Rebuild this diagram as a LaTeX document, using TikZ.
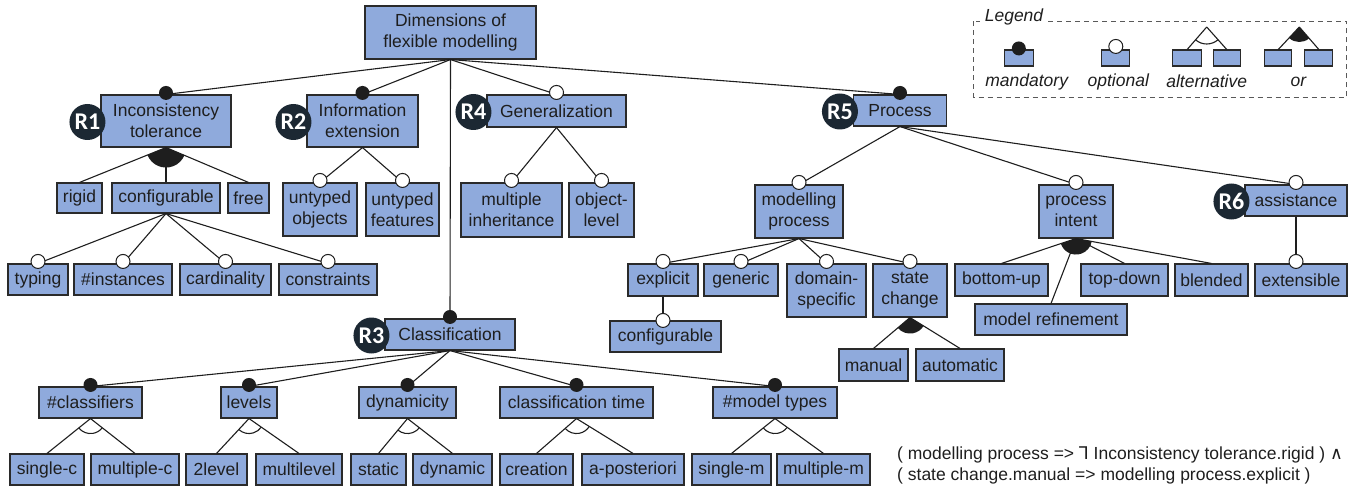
\documentclass[tikz,border=0pt]{standalone}
\usepackage{fontspec}
\setmainfont{Liberation Sans}
\newfontfamily\rfont{Carlito}
\newfontfamily\symfont{DejaVu Sans}
\usetikzlibrary{calc}

\definecolor{boxblue}{HTML}{8FAADC}
\definecolor{boxline}{HTML}{2A2A2A}
\definecolor{rnavy}{HTML}{1C2833}
\definecolor{ink}{HTML}{1E1E1E}

\newcommand\fsz{\fontsize{17.5}{21}\selectfont}

\tikzset{
  feat/.style={draw=boxline, fill=boxblue, line width=1.1pt, inner sep=0pt,
    align=center, font=\fsz, text=ink},
  link/.style={line width=1.1pt, draw=ink},
  mand/.style={circle, fill=ink, inner sep=0pt, minimum size=14pt},
  opt/.style={circle, draw=ink, fill=white, line width=1pt, inner sep=0pt, minimum size=14pt},
  rtag/.style={circle, fill=rnavy, text=white, inner sep=0pt, minimum size=36pt,
    font=\rfont\bfseries\fontsize{24}{24}\selectfont},
  legtext/.style={font=\fsz\itshape, text=ink, inner sep=0pt},
  formula/.style={font=\fsz, text=ink, inner sep=0pt, anchor=west},
}

% filled "or" sector below a parent, spanning from the left child's line to the right child's
\newcommand\orsector[4]{%
  \fill[ink] let \p0=(#1), \p1=($(#2)-(#1)$), \p2=($(#3)-(#1)$),
    \n1={atan2(\y1,\x1)}, \n2={atan2(\y2,\x2)} in
    (\p0) -- ++(\n1:#4) arc[start angle=\n1, end angle=\n2, radius=#4] -- cycle;}
% open "alternative" arc between two child lines
\newcommand\altarc[4]{%
  \draw[link] let \p0=(#1), \p1=($(#2)-(#1)$), \p2=($(#3)-(#1)$),
    \n1={atan2(\y1,\x1)}, \n2={atan2(\y2,\x2)} in
    (\p0) ++(\n1:#4) arc[start angle=\n1, end angle=\n2, radius=#4];}

\begin{document}
\begin{tikzpicture}[x=1pt, y=-1pt]
\useasboundingbox (0,0) rectangle (1364,489);

% ---------- feature boxes ----------
\node[feat, minimum width=171, minimum height=53] (root) at (450.5,32.5) {Dimensions of\\flexible modelling};

\node[feat, minimum width=130, minimum height=52] (inc)  at (166,121)   {Inconsistency\\tolerance};
\node[feat, minimum width=111, minimum height=52] (info) at (362.5,121) {Information\\extension};
\node[feat, minimum width=139, minimum height=32] (gen)  at (556.5,111) {Generalization};
\node[feat, minimum width=93,  minimum height=31] (proc) at (900,110.5) {Process};

\node[feat, minimum width=45,  minimum height=30] (rigid) at (79.5,198)  {rigid};
\node[feat, minimum width=108, minimum height=30] (conf)  at (166,198)   {configurable};
\node[feat, minimum width=41,  minimum height=30] (free)  at (248.5,198) {free};

\node[feat, minimum width=74, minimum height=53] (uobj)  at (320,209.5)   {untyped\\objects};
\node[feat, minimum width=73, minimum height=53] (ufeat) at (402.5,209.5) {untyped\\features};

\node[feat, minimum width=60, minimum height=31] (typing) at (38,279.5)    {typing};
\node[feat, minimum width=98, minimum height=31] (inst)   at (123,279.5)   {\#instances};
\node[feat, minimum width=91, minimum height=31] (card)   at (225.5,279.5) {cardinality};
\node[feat, minimum width=98, minimum height=31] (cons)   at (328,279.5)   {constraints};

\node[feat, minimum width=101, minimum height=54] (minh) at (511.5,210) {multiple\\inheritance};
\node[feat, minimum width=65,  minimum height=54] (objl) at (601.5,210) {object-\\level};

\node[feat, minimum width=88,  minimum height=53] (mproc)  at (799,211.5)  {modelling\\process};
\node[feat, minimum width=74,  minimum height=53] (pint)   at (1076,211.5) {process\\intent};
\node[feat, minimum width=102, minimum height=31] (assist) at (1296,200.5) {assistance};

\node[feat, minimum width=70, minimum height=32] (expl)  at (663,280)     {explicit};
\node[feat, minimum width=74, minimum height=32] (gener) at (741,280)     {generic};
\node[feat, minimum width=79, minimum height=53] (dspec) at (826.5,290.5) {domain-\\specific};
\node[feat, minimum width=74, minimum height=53] (stch)  at (910,290.5)   {state\\change};

\node[feat, minimum width=93,  minimum height=32] (bup)   at (1001.5,280) {bottom-up};
\node[feat, minimum width=87,  minimum height=32] (tdown) at (1124.5,280) {top-down};
\node[feat, minimum width=73,  minimum height=32] (blend) at (1211.5,280) {blended};
\node[feat, minimum width=92,  minimum height=32] (ext)   at (1301,280)   {extensible};
\node[feat, minimum width=152, minimum height=31] (mref)  at (1051,319.5) {model refinement};

\node[feat, minimum width=111, minimum height=31] (conf2)  at (665.5,336.5) {configurable};
\node[feat, minimum width=69,  minimum height=32] (manual) at (873.5,365)   {manual};
\node[feat, minimum width=88,  minimum height=32] (auto)   at (960,365)     {automatic};

\node[feat, minimum width=130, minimum height=31] (cls)   at (450,334.5)   {Classification};
\node[feat, minimum width=103, minimum height=31] (ncls)  at (90.5,402.5)  {\#classifiers};
\node[feat, minimum width=56,  minimum height=31] (lev)   at (249,402.5)   {levels};
\node[feat, minimum width=97,  minimum height=31] (dyn)   at (407.5,402.5) {dynamicity};
\node[feat, minimum width=153, minimum height=31] (ctime) at (576.5,402.5) {classification time};
\node[feat, minimum width=124, minimum height=31] (nmt)   at (775,402.5)   {\#model types};

\node[feat, minimum width=74,  minimum height=31] (sc)    at (47,469.5)    {single-c};
\node[feat, minimum width=88,  minimum height=31] (mc)    at (135,469.5)   {multiple-c};
\node[feat, minimum width=61,  minimum height=31] (lvtwo) at (216.5,469.5) {2level};
\node[feat, minimum width=86,  minimum height=31] (ml)    at (299,469.5)   {multilevel};
\node[feat, minimum width=55,  minimum height=31] (stat)  at (378.5,469.5) {static};
\node[feat, minimum width=79,  minimum height=31] (dynm)  at (452.5,469.5) {dynamic};
\node[feat, minimum width=73,  minimum height=31] (crea)  at (536.5,469.5) {creation};
\node[feat, minimum width=102, minimum height=31] (apost) at (633,469.5)   {a-posteriori};
\node[feat, minimum width=79,  minimum height=31] (sm)    at (731.5,469.5) {single-m};
\node[feat, minimum width=93,  minimum height=31] (mm)    at (823.5,469.5) {multiple-m};

% ---------- connectors ----------
\foreach \c in {inc,info,gen,proc,cls}
  {\draw[link] (root.south) -- (\c.north);}
\foreach \c in {rigid,conf,free}
  {\draw[link] (inc.south) -- (\c.north);}
\foreach \c in {uobj,ufeat}
  {\draw[link] (info.south) -- (\c.north);}
\foreach \c in {typing,inst,card,cons}
  {\draw[link] (conf.south) -- (\c.north);}
\foreach \c in {minh,objl}
  {\draw[link] (gen.south) -- (\c.north);}
\foreach \c in {mproc,pint,assist}
  {\draw[link] (proc.south) -- (\c.north);}
\foreach \c in {expl,gener,dspec,stch}
  {\draw[link] (mproc.south) -- (\c.north);}
\foreach \c in {bup,mref,tdown,blend}
  {\draw[link] (pint.south) -- (\c.north);}
\foreach \c in {manual,auto}
  {\draw[link] (stch.south) -- (\c.north);}
\draw[link] (expl.south) -- (expl.south |- conf2.north);
\draw[link] (assist.south) -- (assist.south |- ext.north);
\foreach \c in {ncls,lev,dyn,ctime,nmt}
  {\draw[link] (cls.south) -- (\c.north);}
\foreach \pa/\ca/\cb in {ncls/sc/mc, lev/lvtwo/ml, dyn/stat/dynm, ctime/crea/apost, nmt/sm/mm} {
  \draw[link] (\pa.south) -- (\ca.north);
  \draw[link] (\pa.south) -- (\cb.north);
}

% ---------- group markers ----------
\orsector{inc.south}{rigid.north}{free.north}{20pt}
\orsector{stch.south}{manual.north}{auto.north}{16pt}
\orsector{pint.south}{bup.north}{blend.north}{16pt}
\foreach \pa/\ca/\cb in {ncls/sc/mc, lev/lvtwo/ml, dyn/stat/dynm, ctime/crea/apost, nmt/sm/mm}
  {\altarc{\pa.south}{\ca.north}{\cb.north}{15pt}}

% ---------- mandatory / optional markers ----------
\foreach \c in {inc,info,proc,cls,ncls,lev,dyn,ctime,nmt}
  {\node[mand] (m-\c) at ($(\c.north)+(0,-1.5)$) {};}
\foreach \c in {gen,uobj,ufeat,typing,inst,card,cons,minh,objl,mproc,pint,assist,expl,gener,dspec,stch}
  {\node[opt] (o-\c) at ($(\c.north)+(0,-2)$) {};}
\node[opt] (o-conf2) at (expl.south |- conf2.north) {};
\node[opt] (o-ext) at ($(assist.south |- ext.north)+(0,-2)$) {};

% ---------- requirement tags ----------
\foreach \c/\t in {inc/R1, info/R2, cls/R3, gen/R4, proc/R5, assist/R6}
  {\node[rtag] (tag-\c) at ($(\c.west)+(-13,1)$) {\t};}

% ---------- legend ----------
\draw[draw=black!65, line width=0.9pt, dash pattern=on 5pt off 4pt]
  (973.5,21.5) rectangle (1346.5,97.5);
\node[legtext, fill=white, inner xsep=5pt, inner ysep=2pt] (legtitle) at (1014,17) {Legend};

\node[feat, minimum width=29, minimum height=16] (lm)  at (1018.8,58) {};
\node[feat, minimum width=28, minimum height=16] (lo)  at (1115.8,58) {};
\node[feat, minimum width=29, minimum height=16] (la1) at (1187.2,58) {};
\node[feat, minimum width=27, minimum height=16] (la2) at (1226.7,58) {};
\node[feat, minimum width=27, minimum height=16] (lr1) at (1278.3,58) {};
\node[feat, minimum width=28, minimum height=16] (lr2) at (1318.8,58) {};
\coordinate (aapex) at (1206.7,27);
\coordinate (oapex) at (1299.3,27);
\draw[link] (aapex) -- (la1.north);
\draw[link] (aapex) -- (la2.north);
\draw[link] (oapex) -- (lr1.north);
\draw[link] (oapex) -- (lr2.north);
\altarc{aapex}{la1.north}{la2.north}{17pt}
\orsector{oapex}{lr1.north}{lr2.north}{15pt}
\node[mand] (lm-dot) at ($(lm.north)+(0,-1)$) {};
\node[opt]  (lo-dot) at ($(lo.north)+(0,-3)$) {};

\node[legtext] (lt-m) at (1026.7,81.5) {mandatory};
\node[legtext] (lt-o) at (1118.3,81.5) {optional};
\node[legtext] (lt-a) at (1206.7,81.5) {alternative};
\node[legtext] (lt-r) at (1298.3,81.5) {or};

% ---------- cross-tree constraint ----------
\node[formula] (cst1) at (897,455) {( modelling process => {\symfont ⅂} Inconsistency tolerance.rigid ) {\symfont ∧}};
\node[formula] (cst2) at (897,476) {( state change.manual => modelling process.explicit )};
\end{tikzpicture}
\end{document}
